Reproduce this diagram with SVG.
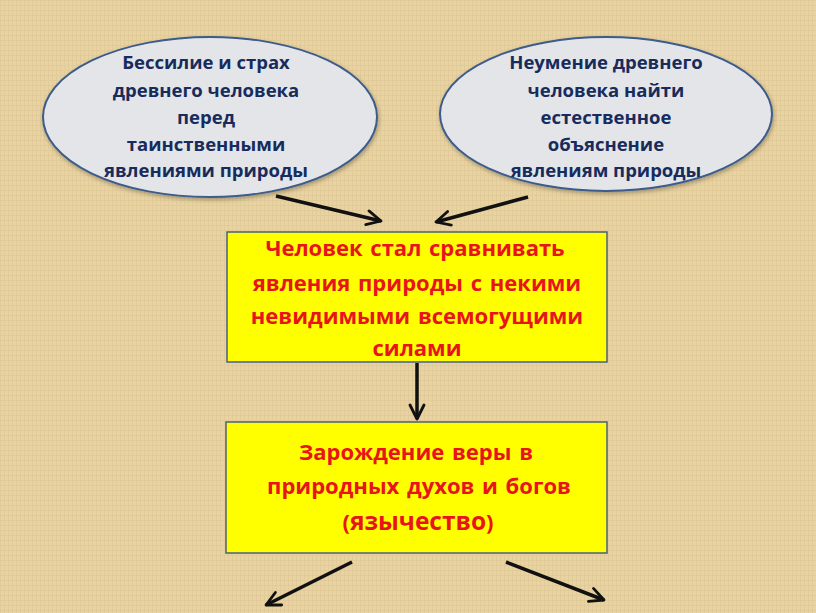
<svg xmlns="http://www.w3.org/2000/svg" width="816" height="613" viewBox="0 0 816 613">
<style>
.ell{fill:#E3E5E8;stroke:#3C5B8A;stroke-width:2}
.box{fill:#FFFF00;stroke:#4A6080;stroke-width:1.5}
.t1{font-family:"Open Sans","Liberation Sans",sans-serif;font-weight:bold;font-size:18.5px;fill:#172C5C;text-anchor:middle}
.t2{font-family:"Open Sans","Liberation Sans",sans-serif;font-weight:bold;font-size:22px;fill:#E8141B;text-anchor:middle;word-spacing:2px}
.con{stroke:#111;stroke-width:3.5;fill:none;marker-end:url(#ah)}
</style>
<defs>
<marker id="ah" viewBox="0 0 10 10" refX="9" refY="5" markerWidth="5" markerHeight="5" orient="auto" markerUnits="strokeWidth">
<path d="M1,1 L9,5 L1,9" fill="none" stroke="#111" stroke-width="1.6" stroke-linecap="round" stroke-linejoin="round"/>
</marker>
<pattern id="tex" width="4" height="5" patternUnits="userSpaceOnUse">
<rect width="4" height="5" fill="#E8D3A2"/>
<path d="M0,0.5 H4 M0.5,0 V5" stroke="#D6BC86" stroke-width="1" opacity="0.35"/>
</pattern>
<filter id="sh" x="-10%" y="-10%" width="120%" height="130%">
<feDropShadow dx="1" dy="2" stdDeviation="2" flood-opacity="0.3"/>
</filter>
</defs>
<rect width="816" height="613" fill="url(#tex)"/>
<g id="node-left">
<ellipse class="ell" cx="210" cy="117" rx="167" ry="80" filter="url(#sh)"/>
<text class="t1" x="206" y="69">Бессилие и страх</text>
<text class="t1" x="206" y="97">древнего человека</text>
<text class="t1" x="206" y="124">перед</text>
<text class="t1" x="206" y="151">таинственными</text>
<text class="t1" x="206" y="177">явлениями природы</text>
</g>
<g id="node-right">
<ellipse class="ell" cx="606" cy="114" rx="166" ry="77" filter="url(#sh)"/>
<text class="t1" x="606" y="69">Неумение древнего</text>
<text class="t1" x="606" y="97">человека найти</text>
<text class="t1" x="606" y="124">естественное</text>
<text class="t1" x="606" y="151">объяснение</text>
<text class="t1" x="606" y="177">явлениям природы</text>
</g>
<g id="node-compare">
<rect class="box" x="227" y="232" width="380" height="130"/>
<text class="t2" x="415" y="256">Человек стал сравнивать</text>
<text class="t2" x="417" y="291">явления природы с некими</text>
<text class="t2" x="417" y="324">невидимыми всемогущими</text>
<text class="t2" x="417" y="356">силами</text>
</g>
<g id="node-faith">
<rect class="box" x="226" y="422" width="381" height="131"/>
<text class="t2" x="416" y="460">Зарождение веры в</text>
<text class="t2" x="419" y="494">природных духов и богов</text>
<text class="t2" x="418" y="530"><tspan>(</tspan><tspan font-size="24.5px">язычество</tspan><tspan>)</tspan></text>
</g>
<g id="connectors">
<line class="con" x1="276" y1="196" x2="381" y2="221"/>
<line class="con" x1="528" y1="197" x2="436" y2="222"/>
<line class="con" x1="417" y1="363" x2="417" y2="419"/>
<line class="con" x1="352" y1="562" x2="266" y2="605"/>
<line class="con" x1="506" y1="562" x2="604" y2="600"/>
</g>
</svg>
